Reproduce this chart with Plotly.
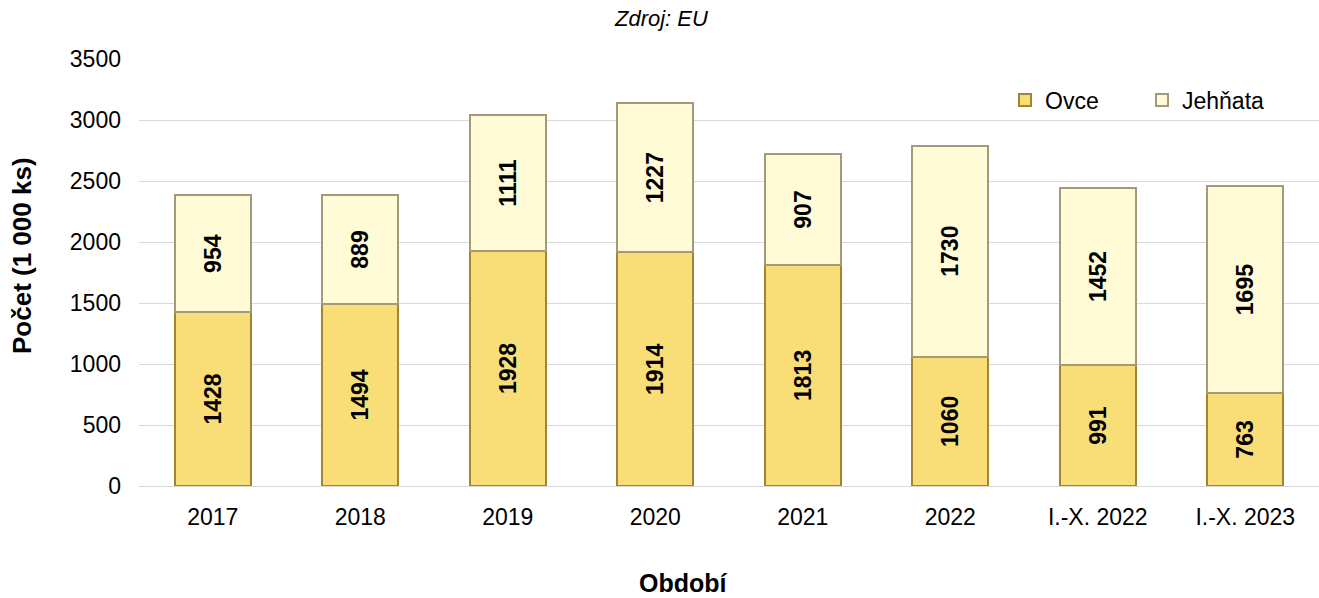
import plotly.graph_objects as go

categories = ["2017", "2018", "2019", "2020", "2021", "2022", "I.-X. 2022", "I.-X. 2023"]
ovce = [1428, 1494, 1928, 1914, 1813, 1060, 991, 763]
jehnata = [954, 889, 1111, 1227, 907, 1730, 1452, 1695]
y_ticks = [0, 500, 1000, 1500, 2000, 2500, 3000, 3500]

FONT = "Liberation Sans, Arial, sans-serif"
W, H = 1319, 598
L, R, T, B = 139, 0, 59, 112
PW, PH = W - L - R, H - T - B

label_font = dict(family=FONT, size=23, color="black", weight="bold")

fig = go.Figure()
fig.add_trace(go.Bar(
    x=categories, y=ovce, name="Ovce",
    marker=dict(color="#F9DD76", line=dict(color="#A08537", width=2)),
    text=[str(v) for v in ovce], textposition="inside", insidetextanchor="middle",
    textangle=-90, textfont=label_font,
))
fig.add_trace(go.Bar(
    x=categories, y=jehnata, name="Jehňata",
    marker=dict(color="#FFFBD6", line=dict(color="#A39A78", width=2)),
    text=[str(v) for v in jehnata], textposition="inside", insidetextanchor="middle",
    textangle=-90, textfont=label_font,
))

def px_x(x):
    return (x - L) / PW

def px_y(y):
    return 1 - (y - T) / PH

fig.update_layout(
    barmode="stack",
    bargap=0.485,
    width=W, height=H,
    margin=dict(l=L, r=R, t=T, b=B, autoexpand=False),
    plot_bgcolor="white", paper_bgcolor="white",
    font=dict(family=FONT, size=23, color="black"),
    showlegend=True,
    legend=dict(orientation="h", x=px_x(1005), xanchor="left",
                y=px_y(100), yanchor="middle",
                font=dict(family=FONT, size=23), bgcolor="rgba(0,0,0,0)", traceorder="normal",
                itemwidth=30, entrywidth=92, entrywidthmode="pixels"),
    annotations=[
        dict(text="<i>Zdroj: EU</i>", xref="paper", yref="paper",
             x=px_x(661), y=px_y(18), xanchor="center", yanchor="middle",
             showarrow=False, font=dict(family=FONT, size=22)),
        dict(text="<b>Počet (1 000 ks)</b>", xref="paper", yref="paper",
             x=px_x(22), y=px_y(256), xanchor="center", yanchor="middle", textangle=-90,
             showarrow=False, font=dict(family=FONT, size=26)),
        dict(text="<b>Období</b>", xref="paper", yref="paper",
             x=px_x(683), y=px_y(583), xanchor="center", yanchor="middle",
             showarrow=False, font=dict(family=FONT, size=25)),
    ],
    uniformtext=dict(minsize=10, mode="show"),
)

fig.update_xaxes(showgrid=False, showline=True, linecolor="#D9D9D9", linewidth=1, ticks="",
                 ticklabelstandoff=10, tickfont=dict(family=FONT, size=23))
fig.update_yaxes(range=[0, 3500], tickvals=y_ticks, showgrid=True, gridcolor="#D9D9D9", gridwidth=1,
                 zeroline=False, ticks="", ticklabelstandoff=17, tickfont=dict(family=FONT, size=23))

fig.write_html("out.html", config={"displayModeBar": False},
               post_script="document.body.style.margin='0';document.body.style.padding='0';")
